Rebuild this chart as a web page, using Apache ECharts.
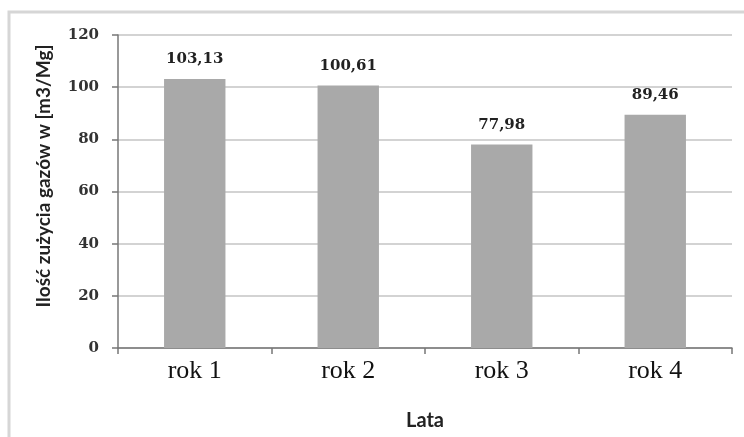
<!DOCTYPE html>
<html><head><meta charset="utf-8">
<script src="https://cdn.jsdelivr.net/npm/echarts@6/dist/echarts.min.js"></script>
<style>html,body{margin:0;padding:0;background:#fff}#c{width:744px;height:437px}</style>
</head><body><div id="c"></div>
<script>
const categories = ['rok 1', 'rok 2', 'rok 3', 'rok 4'];
const values = [103.13, 100.61, 77.98, 89.46];
const valueLabels = ['103,13', '100,61', '77,98', '89,46'];
const yTitle = 'Ilość zużycia gazów w [m3/Mg]';
const xTitle = 'Lata';

const chart = echarts.init(document.getElementById('c'), null, {renderer: 'canvas'});
chart.setOption({
  animation: false,
  backgroundColor: '#fff',
  graphic: [{
    type: 'rect', z: 0, silent: true,
    shape: {x: 9, y: 12, width: 800, height: 500},
    style: {fill: 'none', stroke: '#d6d6d6', lineWidth: 3}
  }, {
    type: 'text', silent: true, x: 44, y: 176, rotation: Math.PI / 2,
    style: {text: yTitle, fontFamily: 'Lato', fontWeight: 'bold', fontSize: 19,
            fill: '#222', align: 'center', verticalAlign: 'middle'}
  }],
  grid: {left: 118, top: 35, right: 12, bottom: 89},
  xAxis: {
    type: 'category', data: categories,
    name: xTitle, nameLocation: 'middle', nameGap: 63,
    nameTextStyle: {fontFamily: 'Lato', fontWeight: 'bold', fontSize: 20, color: '#222'},
    axisLine: {lineStyle: {color: '#777', width: 1.5}},
    axisTick: {show: true, length: 6, lineStyle: {color: '#777', width: 1.5}},
    axisLabel: {fontFamily: 'Liberation Serif', fontSize: 26, color: '#111', margin: 10}
  },
  yAxis: {
    type: 'value', min: 0, max: 120, interval: 20,
    axisLine: {show: true, lineStyle: {color: '#777', width: 1.5}},
    axisTick: {show: true, length: 6, lineStyle: {color: '#777', width: 1.5}},
    axisLabel: {fontFamily: 'DejaVu Serif', fontWeight: 'bold', fontSize: 15, color: '#333', margin: 19},
    splitLine: {show: true, lineStyle: {color: '#c4c4c4', width: 1.5}}
  },
  series: [{
    type: 'bar', data: values, barWidth: '40%',
    itemStyle: {color: '#a9a9a9'},
    label: {
      show: true, position: 'top', distance: 12,
      formatter: p => valueLabels[p.dataIndex],
      fontFamily: 'DejaVu Serif', fontWeight: 'bold', fontSize: 15, color: '#222'
    }
  }]
});
</script></body></html>
